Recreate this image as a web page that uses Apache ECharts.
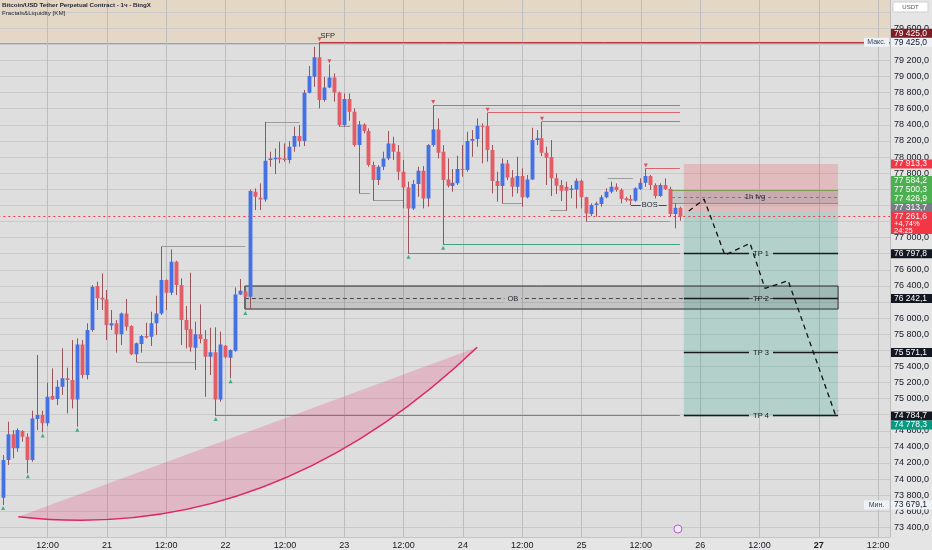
<!DOCTYPE html>
<html><head><meta charset="utf-8">
<script src="https://cdn.jsdelivr.net/npm/echarts@6/dist/echarts.min.js"></script>
<style>html,body{margin:0;padding:0;background:#dedede;}#chart{width:932px;height:550px;}</style>
</head><body><div id="chart"></div>
<script>
// ================= DATA =================
const title = 'Bitcoin/USD Tether Perpetual Contract - 1ч - BingX';
const subtitle = 'Fractals&Liquidity [KM]';
const currency = 'USDT';
// x axis: hours since day 20, 00:00 ; one tick every 12 h
const xTickLabels = ['20','12:00','21','12:00','22','12:00','23','12:00','24','12:00','25','12:00','26','12:00','27','12:00'];
const boldTick = '27';
const firstCandleHour = 3;

const open = [73769,74237,74556,74382,74597,74527,74237,74746,74796,74692, 75032,74994,75148,75251,75230,74990,75673,75292,75851,76398, 76253,76232,75909,75934,75798,76058,75901,75549,75678,75777, 75769,75934,76058,76472,76315,76700,76410,75976,75860,75632, 75798,75740,75520,75574,74990,75657,75508,75595,76294,76330, 76265,77569,77495,77474,77962,77971,77991,77983,77962,78128, 78260,78198,78799,78997,79238,78708,78865,78989,78803,78397, 78720,78563,78149,78405,78323,77900,77714,77880,77983,78169, 78066,77817,77623,77362,77664,77830,77486,78149,78343,78066, 77722,77640,77673,77851,77838,78203,78223,78389,78385,78087, 77702,77640,77921,77747,77631,77764,77499,77722,78211,78232, 78054,78000,77735,77652,77632,77590,77598,77706,77499,77292, 77404,77416,77499,77569,77631,77590,77487,77478,77458,77603, 77681,77764,77652,77516,77652,77603,77292,77371];
const high = [74299,74713,74609,74630,74609,74568,74850,75541,74850,75197, 75375,75230,75624,75384,75727,75748,75727,75934,76410,76452, 76555,76348,76100,75976,76070,76236,75910,75695,75789,75942, 76079,76278,76886,76480,76853,76712,76493,76149,76563,75955, 76170,75851,75880,75885,75831,75665,75610,76381,76485,76400, 77598,77610,77673,78438,78066,78107,78190,78169,78198,78376, 78397,78832,79130,79370,79425,78997,79151,79039,78811,78790, 78790,78604,78447,78418,78356,77942,77900,78066,78323,78252, 78149,77962,77693,77714,77880,77888,78160,78645,78480,78149, 77983,77851,78016,78149,78314,78335,78480,78418,78550,78149, 77818,77983,77963,77838,78004,77859,77776,78364,78335,78439, 78128,78211,77797,77714,77694,77652,77735,77720,77507,77424, 77445,77528,77611,77694,77673,77611,77507,77528,77623,77735, 77859,77776,77673,77673,77735,77631,77424,77383];
const low = [73679.1,74175,74257,74340,74464,74071,74216,74609,74580,74659, 74982,74920,75044,74816,74878,74651,75251,75239,75830,76100, 76100,75727,75851,75570,75665,75843,75541,75450,75570,75748, 75653,75789,76038,76100,76286,76286,75665,75624,75582,75355, 75686,75023,75292,74784.7,74961,75499,75251,75582,76286,76100, 76110,77341,77341,77445,77880,77789,77921,77942,77921,78066, 78128,78136,78790,78873,78604,78687,78856,78687,78376,78376, 78450,78128,77548,78294,77880,77457,77652,77838,77962,77962, 77714,77362,76797.8,77341,77507,77362,77383,78128,77983,76910, 77623,77569,77652,77756,77818,78004,78128,77921,77942,77549, 77445,77424,77714,77507,77549,77383,77487,77714,78149,78012, 77652,77515,77540,77453,77333,77487,77362,77362,77197,77267, 77259,77383,77487,77549,77569,77424,77445,77404,77445,77590, 77631,77590,77487,77507,77590,77259,77114,77209];
const close = [74237,74556,74382,74609,74527,74237,74754,74796,74692,75023, 74990,75148,75251,75230,74990,75673,75292,75851,76390,76245, 76232,75913,75934,75798,76058,75893,75549,75686,75777,75760, 75934,76058,76472,76315,76700,76410,75976,75851,75636,75798, 75740,75520,75574,74990,75673,75512,75603,76294,76340,76265, 77577,77507,77474,77954,77983,77991,77971,77962,78128,78260, 78198,78799,79006,79238,78708,78865,78989,78803,78397,78720, 78563,78149,78405,78323,77900,77714,77880,77983,78169,78066, 77817,77623,77362,77664,77830,77486,78149,78343,78053,77714, 77644,77681,77851,77838,78199,78223,78389,78380,78087,77702, 77640,77921,77747,77631,77764,77499,77722,78211,78232,78054, 77992,77735,77644,77582,77582,77610,77706,77499,77300,77404, 77424,77499,77569,77631,77590,77478,77466,77458,77611,77681, 77764,77652,77516,77652,77603,77292,77371,77261.6];

const lastPrice = 77261.6;
const lastChange = '+4,74%';
const barCountdown = '24:25';
const maxPrice = 79425.0;
const minPrice = 73679.1;

// fractal markers (1-based candle numbers)
const fractalLowCandles = [1,6,9,16,44,47,50,83,90];
const fractalHighCandles = [65,67,88,99,110,131];

// level lines: [startHour, price, endHour]
const sfpLine = [[67, 79425.0, 182.4]];
const swingHighLines = [[90,78645,139.9],[101,78550,139.9],[112,78439,139.9],[133,77859,139.9]];
const swingLowLines = [[46,74784.7,139.9],[85,76797.8,139.9],[92,76910,139.9]];
const pivotLines = [[56,78426,63],[75,77548,77.2],[78,77457,83.9],[71,78376,73.2],[30,75450,41.8],[104,77424,107.9],[113.6,77333,117],[121,77197,137.9],[125.3,77735,130.4],[35,76886,52]];
const bosLine = [[130,77404,137.2]];
const bosLabelHour = 133.8;
const lastPriceLine = [[0, lastPrice, 182.4]];

// position tool
const posStart = 140.7, posEnd = 171.9;
const entryPrice = 77313.7, stopPrice = 77913.3, targetPrice = 74778.3;
const tpPrices = [76797.8, 76242.1, 75571.1, 74784.7];
const tpLabels = ['TP 1','TP 2','TP 3','TP 4'];

// 1h FVG
const fvgStart = 138.3, fvgEnd = 171.9;
const fvgLow = 77426.9, fvgMid = 77500.3, fvgHigh = 77584.2;
const fvgLabel = '1h fvg';

// order block
const obStart = 51.9, obEnd = 171.9, obLow = 76112, obHigh = 76398, obMid = 76242.1;
const obLabel = 'OB', obLabelHour = 106.1;

// projected path [hour, price]
const projection = [[141.7,77329],[144.8,77475],[149.0,76783],[154.1,76928],[157.1,76369],[161.8,76464],[171.3,74808],[171.9,74852]];

// curve drawing: start, control, end  [hour, price]
const curveStart = [6.07, 73533], curveControl = [57.0, 73181], curveEnd = [98.9, 75637];

// event marker
const eventMarks = [[139.5, 73380]];

// price-scale tags
const tagPrices = [79425.0, 79425.0, 77261.6, 77313.7, 77426.9, 77500.3, 77584.2, 77913.3, 76797.8, 76242.1, 75571.1, 74784.7, 74778.3, 73679.1];
const tagKinds  = ['max','sfp','last','entry','fvg','fvg','fvg','stop','tp','tp','tp','tp','target','min'];
const tagNotes = {max:'Макс.', min:'Мин.'};

// ================= LAYOUT / STYLE =================
const X0 = 0, X1 = 182.4, Y0 = 73200, Y1 = 80000;
const FONT = 'Liberation Sans';
const UP = '#4471e3', DOWN = '#e45c66', WICK = '#9a5459';
const TAG_STYLE = {
  max:{bg:'#eef1f6', fg:'#131722'}, min:{bg:'#eef1f6', fg:'#131722'},
  sfp:{bg:'#7e1c24', fg:'#ffffff'}, last:{bg:'#f23645', fg:'#ffffff'},
  entry:{bg:'#787b86', fg:'#ffffff'}, fvg:{bg:'#4caf50', fg:'#ffffff'},
  stop:{bg:'#f23645', fg:'#ffffff'}, tp:{bg:'#131722', fg:'#ffffff'},
  target:{bg:'#089981', fg:'#ffffff'}
};

function fmt(v){ const s = Number(v).toFixed(1); const parts = s.split('.'); return parts[0].replace(/\B(?=(\d{3})+(?!\d))/g,' ') + ',' + parts[1]; }
function crisp(v){ return Math.round(v - 0.5) + 0.5; }

function tagExtent(kind){ return kind === 'last' ? [-4.5, 17.5] : [-4.5, 4.5]; }
function layoutTags(toY){
  const placed = [];
  tagPrices.forEach((p, i) => {
    const ext = tagExtent(tagKinds[i]);
    let y = toY(p);
    for (let k = 0; k < 30; k++){
      const hit = placed.find(q => y + ext[0] < q.y + q.ext[1] - 0.01 && y + ext[1] > q.y + q.ext[0] + 0.01);
      if (!hit) break;
      if (p < hit.p) y = hit.y + hit.ext[1] - ext[0]; else y = hit.y + hit.ext[0] - ext[1];
    }
    placed.push({p, y, ext, i});
  });
  return placed;
}

function custom(name, data, render, extra){
  return Object.assign({type:'custom', name, coordinateSystem:'cartesian2d', xAxisIndex:0, yAxisIndex:0,
    data, renderItem:render, clip:true, silent:true, animation:false}, extra || {});
}
function levelRender(style){
  return (params, api) => {
    const a = api.coord([api.value(0), api.value(1)]), b = api.coord([api.value(2), api.value(1)]);
    const y = crisp(a[1]);
    return {type:'line', shape:{x1:a[0], y1:y, x2:b[0], y2:y}, style:Object.assign({fill:null, lineWidth:1}, style)};
  };
}
function boxRender(style){
  return (params, api) => {
    const a = api.coord([api.value(0), api.value(3)]), b = api.coord([api.value(2), api.value(1)]);
    return {type:'rect', shape:{x:a[0], y:a[1], width:b[0]-a[0], height:b[1]-a[1]}, style};
  };
}
function textRender(text, style){
  return (params, api) => {
    const a = api.coord([api.value(0), api.value(1)]);
    return {type:'text', x:a[0] + (style.dx || 0), y:a[1] + (style.dy || 0),
      style:Object.assign({text, fill:'#1e222d', fontSize:7.5, fontFamily:FONT, align:'center', verticalAlign:'middle'}, style.s || {})};
  };
}

function renderCandle(params, api){
  const h = api.value(0), o = api.value(1), hi = api.value(2), lo = api.value(3), c = api.value(4);
  const pO = api.coord([h, o]), pC = api.coord([h, c]), pH = api.coord([h, hi]), pL = api.coord([h, lo]);
  const bw = api.size([1, 0])[0] * 0.78;
  const x = crisp(pO[0]);
  const top = Math.min(pO[1], pC[1]), bh = Math.max(1, Math.abs(pO[1] - pC[1]));
  return {type:'group', children:[
    {type:'line', shape:{x1:x, y1:pH[1], x2:x, y2:pL[1]}, style:{stroke:WICK, lineWidth:1}},
    {type:'rect', shape:{x:x - bw/2, y:top, width:bw, height:bh}, style:{fill: c >= o ? UP : DOWN}}
  ]};
}

function renderTP(params, api){
  const i = params.dataIndex;
  const a = api.coord([api.value(0), api.value(1)]), b = api.coord([api.value(2), api.value(1)]);
  const y = crisp(a[1]), mid = (a[0] + b[0]) / 2, gap = 12;
  return {type:'group', children:[
    {type:'line', shape:{x1:a[0], y1:y, x2:mid-gap, y2:y}, style:{stroke:'#1b1b1b', lineWidth:1.4}},
    {type:'line', shape:{x1:mid+gap, y1:y, x2:b[0], y2:y}, style:{stroke:'#1b1b1b', lineWidth:1.4}},
    {type:'text', x:mid, y:y, style:{text:tpLabels[i], fill:'#1b1b1b', fontSize:7.5, fontFamily:FONT, align:'center', verticalAlign:'middle'}}
  ]};
}

function renderCurve(params, api){
  const s = api.coord([api.value(0), api.value(1)]), c = api.coord([api.value(2), api.value(3)]), e = api.coord([api.value(4), api.value(5)]);
  return {type:'group', children:[
    {type:'path', shape:{pathData:'M' + s[0] + ' ' + s[1] + ' Q' + c[0] + ' ' + c[1] + ' ' + e[0] + ' ' + e[1] + ' Z'},
     style:{fill:'rgba(233,30,99,0.2)', stroke:null}},
    {type:'bezierCurve', shape:{x1:s[0], y1:s[1], cpx1:c[0], cpy1:c[1], x2:e[0], y2:e[1]},
     style:{fill:null, stroke:'#e0245e', lineWidth:1.5}}
  ]};
}

function renderTag(params, api){
  const i = params.dataIndex;
  const L = layoutTags(p => api.coord([X1, p])[1]);
  const t = L[i], kind = tagKinds[i], st = TAG_STYLE[kind];
  const xr = api.coord([X1, Y0])[0];
  const W = api.getWidth();
  const top = t.y + t.ext[0], hgt = t.ext[1] - t.ext[0];
  const ch = [{type:'rect', shape:{x:xr + 1, y:top, width:W - xr - 1, height:hgt}, style:{fill:st.bg}}];
  const lines = kind === 'last' ? [fmt(tagPrices[i]), lastChange, barCountdown] : [fmt(tagPrices[i])];
  lines.forEach((s, k) => ch.push({type:'text', x:xr + 4, y:t.y + k * 7.3,
    style:{text:s, fill:st.fg, fontSize:k ? 7.5 : 8.5, fontFamily:FONT, align:'left', verticalAlign:'middle'}}));
  if (tagNotes[kind]){
    ch.push({type:'rect', shape:{x:xr - 26, y:top, width:25, height:hgt}, style:{fill:st.bg}});
    ch.push({type:'text', x:xr - 13.5, y:t.y, style:{text:tagNotes[kind], fill:'#3a4060', fontSize:7, fontFamily:FONT, align:'center', verticalAlign:'middle'}});
  }
  return {type:'group', children:ch};
}

const candleData = open.map((o, i) => [firstCandleHour + i, o, high[i], low[i], close[i]]);
const lowMarks = fractalLowCandles.map(n => [firstCandleHour + n - 1, low[n - 1]]);
const highMarks = fractalHighCandles.map(n => [firstCandleHour + n - 1, high[n - 1]]);

const option = {
  animation:false,
  backgroundColor:'#dedede',
  textStyle:{fontFamily:FONT},
  grid:[
    {left:-11.7, right:42, top:-4, bottom:6.5, containLabel:false, outerBoundsMode:'none'},
    {left:-11.7, right:42, top:536, height:1, containLabel:false, outerBoundsMode:'none'}
  ],
  xAxis:[
    {type:'value', gridIndex:0, min:X0, max:X1, interval:12,
     axisLine:{show:false}, axisTick:{show:false}, axisLabel:{show:false},
     splitLine:{show:true, lineStyle:{color:'#bdbdbd', width:1}}},
    {type:'value', gridIndex:1, min:X0, max:X1, interval:12, z:6,
     axisLine:{show:true, lineStyle:{color:'#c4c4c4'}}, axisTick:{show:false}, splitLine:{show:false},
     axisLabel:{margin:4, fontSize:9, color:'#131722', showMinLabel:false,
       formatter: v => { const s = xTickLabels[Math.round(v / 12)] || ''; return s === boldTick ? '{b|' + s + '}' : s; },
       rich:{b:{fontWeight:'bold', fontSize:9, color:'#131722'}}}}
  ],
  yAxis:[
    {type:'value', gridIndex:0, position:'right', min:Y0, max:Y1, interval:200,
     axisLine:{show:true, lineStyle:{color:'#c4c4c4'}}, axisTick:{show:false},
     splitLine:{show:true, lineStyle:{color:'#cacaca', width:1}},
     axisLabel:{margin:4, fontSize:9, color:'#131722', showMaxLabel:false, formatter: v => fmt(v)}},
    {type:'value', gridIndex:1, show:false, min:0, max:1}
  ],
  graphic:[
    {type:'rect', shape:{x:890, y:0, width:42, height:550}, style:{fill:'#e5e5e5'}, z:-10, silent:true},
    {type:'rect', shape:{x:0, y:537, width:932, height:13}, style:{fill:'#e5e5e5'}, z:1, silent:true},
    {type:'rect', shape:{x:893, y:2, width:35, height:10, r:1}, style:{fill:'#ffffff', stroke:'#cfcfcf', lineWidth:1}, z:10, silent:true},
    {type:'text', x:910.5, y:7, style:{text:currency, fill:'#555555', fontSize:6, fontFamily:FONT, align:'center', verticalAlign:'middle'}, z:11, silent:true},
    {type:'text', x:2, y:2, style:{text:title, fill:'#1e222d', fontSize:6.2, fontWeight:'bold', fontFamily:FONT}, z:11, silent:true},
    {type:'text', x:2, y:10.5, style:{text:subtitle, fill:'#1e222d', fontSize:6.2, fontFamily:FONT}, z:11, silent:true}
  ],
  series:[
    custom('maxZone', [[X0, maxPrice, X1, Y1]], boxRender({fill:'#e4d7c6'}), {z:-1}),
    custom('maxZoneEdge', [[X0, maxPrice - 15, X1]], levelRender({stroke:'#a99d90'}), {z:-1}),
    custom('stopZone', [[posStart, entryPrice, posEnd, stopPrice]], boxRender({fill:'rgba(242,54,69,0.2)'})),
    custom('targetZone', [[posStart, targetPrice, posEnd, entryPrice]], boxRender({fill:'rgba(8,153,129,0.2)'})),
    custom('fvgBox', [[fvgStart, fvgLow, fvgEnd, fvgHigh]], boxRender({fill:'rgba(110,112,122,0.22)'})),
    custom('fvgEdges', [[fvgStart, fvgLow, fvgEnd],[fvgStart, fvgHigh, fvgEnd]], levelRender({stroke:'#7f9d55'})),
    custom('fvgMid', [[fvgStart, fvgMid, fvgEnd]], levelRender({stroke:'#7a7a7a', lineDash:[3,3]})),
    custom('obBox', [[obStart, obLow, obEnd, obHigh]], boxRender({fill:'rgba(0,0,0,0.11)', stroke:'#2e2e2e', lineWidth:1})),
    custom('obMid', [[obStart, obMid, obEnd]], levelRender({stroke:'#444444', lineDash:[4,3]})),
    custom('curve', [[curveStart[0], curveStart[1], curveControl[0], curveControl[1], curveEnd[0], curveEnd[1]]], renderCurve, {z:3}),
    custom('pivotLines', pivotLines, levelRender({stroke:'#9c9c9c'})),
    custom('swingHighLines', swingHighLines, levelRender({stroke:'#d9646e'})),
    custom('swingLowLines', swingLowLines, levelRender({stroke:'#3da47f'})),
    custom('sfpLine', sfpLine, levelRender({stroke:'#b6363e'})),
    custom('bosLine', bosLine, levelRender({stroke:'#8a2a2e'})),
    custom('lastPriceLine', lastPriceLine, levelRender({stroke:'#f23645', lineDash:[2,3]})),
    custom('candles', candleData, renderCandle, {encode:{x:0, y:[1,2,3,4]}, z:4}),
    custom('takeProfits', tpPrices.map(p => [posStart, p, posEnd]), renderTP, {z:5}),
    {type:'line', name:'projection', data:projection, symbol:'none', silent:true,
     lineStyle:{color:'#111111', width:1.3, type:[5,4]}, z:6},
    {type:'scatter', name:'fractalLows', data:lowMarks, symbol:'triangle', symbolSize:4, symbolOffset:[0,3],
     itemStyle:{color:'#17a072'}, silent:true, z:6},
    {type:'scatter', name:'fractalHighs', data:highMarks, symbol:'triangle', symbolRotate:180, symbolSize:4, symbolOffset:[0,-3],
     itemStyle:{color:'#d9323c'}, silent:true, z:6},
    {type:'scatter', name:'events', data:eventMarks, symbol:'circle', symbolSize:8,
     itemStyle:{color:'#f6eefa', borderColor:'#a33bc2', borderWidth:1}, silent:true, z:6},
    custom('sfpText', [[sfpLine[0][0], sfpLine[0][1]]], textRender('SFP', {dx:1, dy:-2, s:{align:'left', verticalAlign:'bottom'}}), {z:7}),
    custom('bosText', [[bosLabelHour, bosLine[0][1]]], textRender('BOS', {s:{backgroundColor:'#dedede', padding:[0,1]}}), {z:7}),
    custom('fvgText', [[(fvgStart + fvgEnd) / 2, fvgMid]], textRender(fvgLabel, {}), {z:7}),
    custom('obText', [[obLabelHour, obMid]], textRender(obLabel, {s:{backgroundColor:'#c6c6c6', padding:[0,3]}}), {z:7}),
    custom('tags', tagPrices.map(p => [X1, p]), renderTag, {clip:false, z:10})
  ]
};

const chart = echarts.init(document.getElementById('chart'), null, {renderer:'canvas', width:932, height:550});
chart.setOption(option);

const toY = p => chart.convertToPixel({yAxisIndex:0}, p);
const placedTags = layoutTags(toY);
const hiddenTicks = new Set();
for (let v = Y0; v <= Y1; v += 200){
  const y = toY(v);
  if (y < 20 || y > 533 || placedTags.some(t => y > t.y + t.ext[0] + 1 && y < t.y + t.ext[1] - 1)) hiddenTicks.add(v);
}
chart.setOption({yAxis:[{axisLabel:{formatter: v => hiddenTicks.has(Math.round(v)) ? '' : fmt(v)}}]});
</script>
</body></html>
